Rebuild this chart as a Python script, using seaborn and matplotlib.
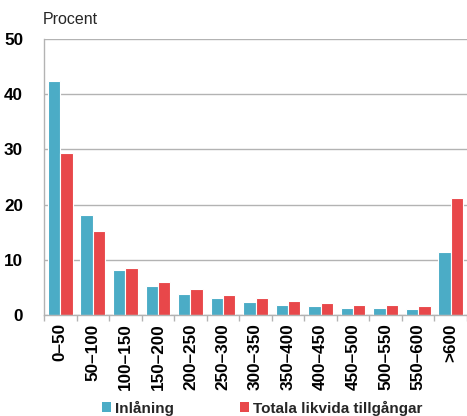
import matplotlib
matplotlib.use("Agg")
import matplotlib.pyplot as plt
from matplotlib.patches import Patch
import seaborn as sns
import pandas as pd
import numpy as np

categories = ["0–50", "50–100", "100–150", "150–200", "200–250", "250–300",
              "300–350", "350–400", "400–450", "450–500", "500–550", "550–600", ">600"]
inlaning = [42.4, 18.1, 8.2, 5.2, 3.8, 3.0, 2.3, 1.9, 1.6, 1.3, 1.2, 1.1, 11.4]
likvida = [29.3, 15.2, 8.5, 6.0, 4.7, 3.6, 3.0, 2.5, 2.2, 1.9, 1.75, 1.6, 21.2]
series_names = ["Inlåning", "Totala likvida tillgångar"]
colors = ["#4BACC6", "#E8474A"]
yticks = [0, 10, 20, 30, 40, 50]

df = pd.DataFrame({
    "kategori": categories * 2,
    "värde": inlaning + likvida,
    "serie": [series_names[0]] * len(categories) + [series_names[1]] * len(categories),
})

sns.set_theme(style="white")
plt.rcParams["font.family"] = ["Liberation Sans", "DejaVu Sans"]

fig = plt.figure(figsize=(4.67, 4.16), dpi=100)
ax = fig.add_axes([44 / 467, 1 - 315 / 416, 423 / 467, 276 / 416])

sns.barplot(data=df, x="kategori", y="värde", hue="serie", order=categories,
            hue_order=series_names, palette=colors, saturation=1, width=0.76,
            edgecolor="white", linewidth=0.8, ax=ax, legend=False)

ax.set_xlim(-0.5, len(categories) - 0.5)
ax.set_ylim(0, 50)
ax.set_yticks(yticks)
ax.set_yticklabels([str(t) for t in yticks], fontsize=12.3, fontweight="bold", color="black")
ax.yaxis.grid(True, color="#b3b3b3", linewidth=1.0)
ax.set_axisbelow(True)
ax.tick_params(axis="y", length=0, pad=15)

ax.set_xticks(range(len(categories)))
ax.set_xticklabels(categories, rotation=90, fontsize=12.3, fontweight="bold", color="black")
ax.tick_params(axis="x", which="major", length=0, pad=6)
ax.set_xticks(np.arange(-0.5, len(categories), 1.0), minor=True)
ax.tick_params(axis="x", which="minor", length=4, color="#b3b3b3", width=1.0, bottom=True)

ax.set_xlabel("")
ax.set_ylabel("")
for side in ["top", "right"]:
    ax.spines[side].set_visible(False)
for side in ["left", "bottom"]:
    ax.spines[side].set_color("#b3b3b3")
    ax.spines[side].set_linewidth(1.0)

fig.text(43 / 467, 1 - 19 / 416, "Procent", fontsize=11.5, va="center", ha="left")

handles = [Patch(facecolor=c, edgecolor="none") for c in colors]
fig.legend(handles, series_names, loc="center left", bbox_to_anchor=(102 / 467, 1 - 408 / 416),
           ncol=2, frameon=False, borderpad=0, borderaxespad=0,
           handlelength=0.6, handleheight=0.6, handletextpad=0.25, columnspacing=4.3,
           prop={"weight": "bold", "size": 11})

fig.savefig("out.png", dpi=100)
